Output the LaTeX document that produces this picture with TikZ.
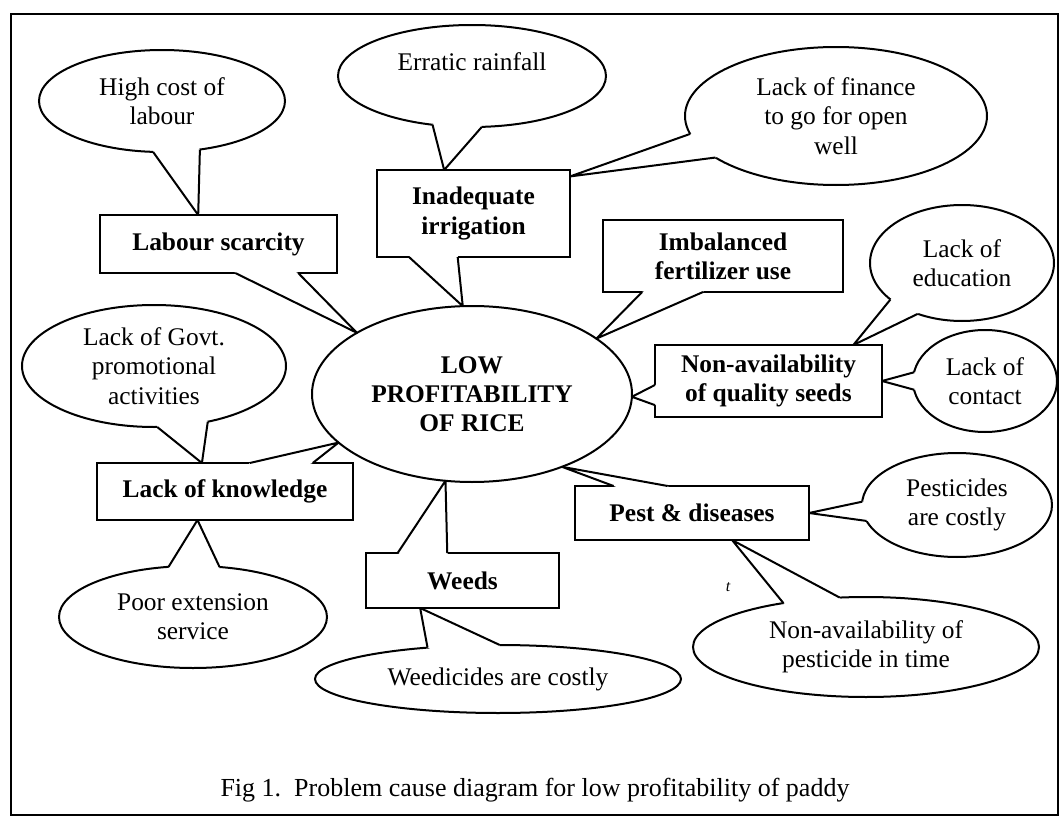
\documentclass[tikz,border=0pt]{standalone}
\usepackage{fontspec}
\setmainfont{Liberation Serif}
\usetikzlibrary{shapes.geometric,calc}

\newcommand{\tail}[4]{%
  \fill[white] (#1.#2) -- (#4) -- (#1.#3) -- ($(#1.#3)!2.5pt!(#1.center)$) -- ($(#1.#2)!2.5pt!(#1.center)$) -- cycle;
  \draw[line width=1pt,line join=round] (#1.#2) -- (#4) -- (#1.#3);}

\begin{document}
\begin{tikzpicture}[x=0.5pt,y=-0.5pt,
  bub/.style 2 args={ellipse,draw,fill=white,line width=1pt,inner sep=0pt,outer sep=0pt,
    minimum width=#1,minimum height=#2,align=center,font=\fontsize{12.7}{14.6}\selectfont},
  box/.style 2 args={rectangle,draw,fill=white,line width=1pt,inner sep=0pt,outer sep=0pt,
    minimum width=#1,minimum height=#2,align=center,font=\fontsize{12.7}{14.6}\selectfont\bfseries}]

\useasboundingbox (0,0) rectangle (1062,819);
\draw[line width=0.8pt] (11,14) rectangle (1058,815);

\node[bub={160pt}{88pt},font=\fontsize{12.7}{14.6}\selectfont\bfseries] (low) at (472,394) {LOW\\PROFITABILITY\\OF RICE};

\node[box={118.5pt}{29pt}] (labour) at (218.5,244) {Labour scarcity};
\node[box={96.5pt}{43.5pt}] (irrig) at (473.5,213.5) {Inadequate\\irrigation};
\node[box={120pt}{36pt}] (fert) at (723,256) {Imbalanced\\fertilizer use};
\node[box={113.5pt}{36pt}] (seeds) at (768.5,381) {Non-availability\\of quality seeds};
\node[box={128pt}{28.5pt}] (know) at (225,491.5) {Lack of knowledge};
\node[box={96.5pt}{27.5pt}] (weeds) at (462.5,580.5) {Weeds};
\node[box={117pt}{27pt}] (pest) at (692,513) {Pest \& diseases};

\node[bub={123pt}{51pt}] (hicost) at (162,101) {High cost of\\labour};
\node[bub={134pt}{51pt}] (rain) at (472,76) {Erratic rainfall\\\mbox{}};
\node[bub={151pt}{69pt}] (finance) at (836,116) {Lack of finance\\to go for open\\well};
\node[bub={92pt}{58pt}] (edu) at (962,263) {Lack of\\education};
\node[bub={72pt}{51pt}] (contact) at (985,381) {Lack of\\contact};
\node[bub={132pt}{61pt}] (govt) at (154,366) {Lack of Govt.\\promotional\\activities};
\node[bub={134pt}{51pt}] (ext) at (193,617) {Poor extension\\service};
\node[bub={183pt}{34pt}] (weedi) at (498,679) {Weedicides are costly};
\node[bub={95pt}{52pt}] (pcost) at (957,505) {Pesticides\\are costly};
\node[bub={173pt}{50pt}] (ptime) at (866,647) {Non-availability of\\pesticide in time};

% pointers to the centre
\tail{labour}{300}{340}{low.152}
\tail{irrig}{214}{250}{low.96}
\tail{fert}{204}{241}{low.24}
\tail{seeds}{182}{192}{low.359}
\tail{know}{49}{18}{low.200}
\tail{weeds}{157}{119}{low.253}
\tail{pest}{161}{132}{low.321}

% pointers to the causes
\tail{hicost}{260}{308}{labour.125}
\tail{rain}{231}{281}{irrig.124}
\tail{finance}{187}{199}{irrig.21}
\tail{edu}{207}{229}{seeds.23}
\tail{contact}{173}{187}{seeds.east}
\tail{govt}{273}{314}{know.129}
\tail{ext}{116}{62}{know.226}
\tail{weedi}{156}{87}{weeds.213}
\tail{pcost}{178}{190}{pest.east}
\tail{ptime}{152}{118}{pest.326}

\node[font=\fontsize{13}{15}\selectfont] (cap) at (535,790) {Fig 1.\ \ Problem cause diagram for low profitability of paddy};
\node[font=\itshape\footnotesize] (speck) at (728,587) {t};

\end{tikzpicture}
\end{document}
